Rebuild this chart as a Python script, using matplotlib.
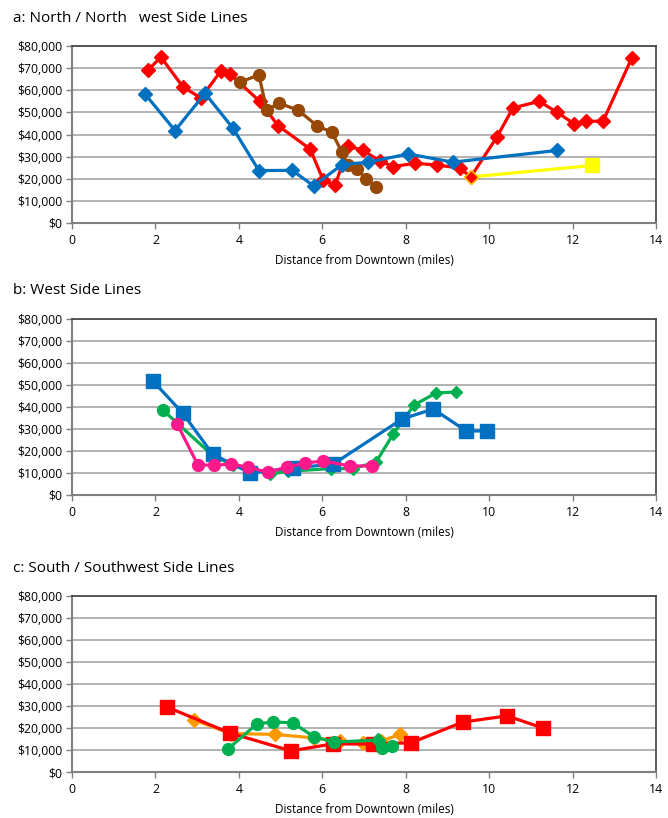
import matplotlib.pyplot as plt
import numpy as np

plt.rcParams["font.family"] = ["Open Sans", "DejaVu Sans"]

# ---- panel a: North / Northwest ----
a_red_x = [1.82, 2.13, 2.66, 3.09, 3.57, 3.79, 4.5, 4.94, 5.71, 6.02, 6.31, 6.62, 6.98,
           7.38, 7.7, 8.22, 8.75, 9.3, 9.56, 10.19, 10.57, 11.2, 11.63, 12.04, 12.32, 12.73, 13.42]
a_red_y = [69000, 75000, 61500, 56500, 68700, 67300, 55000, 44000, 33400, 19500, 17000, 34800, 32800,
           28000, 25500, 27000, 26200, 24800, 20800, 39000, 52000, 55000, 50000, 44800, 46000, 46000, 74600]
a_brown_x = [4.03, 4.48, 4.67, 4.96, 5.42, 5.87, 6.23, 6.47, 6.62, 6.83, 7.05, 7.29]
a_brown_y = [63700, 66900, 51000, 54200, 51000, 44000, 41000, 32000, 26200, 24400, 20000, 16300]
a_blue_x = [1.75, 2.47, 3.19, 3.86, 4.48, 5.28, 5.79, 6.48, 7.1, 8.06, 9.13, 11.63]
a_blue_y = [58300, 41800, 58600, 42800, 23700, 23800, 16800, 26400, 27500, 31200, 27500, 32800]
a_yellow_x = [9.56, 12.47]
a_yellow_y = [20800, 26000]

# ---- panel b: West ----
b_green_x = [2.18, 3.4, 3.85, 4.75, 5.18, 6.2, 6.74, 7.29, 7.7, 8.2, 8.73, 9.2]
b_green_y = [38600, 17500, 13800, 9500, 10800, 12000, 12000, 15000, 27700, 40900, 46400, 46800]
b_blue_x = [1.94, 2.65, 3.37, 4.27, 5.3, 6.26, 7.91, 8.66, 9.45, 9.95]
b_blue_y = [51800, 37300, 18600, 10000, 12300, 14000, 34500, 39100, 29100, 29100]
b_pink_x = [2.52, 3.02, 3.41, 3.81, 4.22, 4.7, 5.15, 5.59, 6.02, 6.66, 7.19]
b_pink_y = [32300, 13600, 13600, 14000, 12700, 10300, 12700, 14500, 15500, 13200, 13200]

# ---- panel c: South / Southwest ----
c_orange_x = [2.93, 3.8, 4.86, 5.8, 6.42, 6.98, 7.4, 7.87]
c_orange_y = [23600, 17500, 17100, 15500, 14200, 13100, 14000, 17100]
c_red_x = [2.28, 3.79, 5.25, 6.26, 7.22, 8.13, 9.37, 10.43, 11.29]
c_red_y = [29500, 17700, 9600, 12800, 12700, 13300, 22700, 25500, 20000]
c_green_x = [3.74, 4.43, 4.82, 5.3, 5.8, 6.28, 7.33, 7.43, 7.67]
c_green_y = [10500, 21800, 22800, 22300, 16000, 13600, 14500, 11000, 11800]

titles = ["a: North / North   west Side Lines", "b: West Side Lines",
          "c: South / Southwest Side Lines"]
xlabel = "Distance from Downtown (miles)"

W, H = 668, 818
fig = plt.figure(figsize=(W / 100, H / 100), dpi=100)

# plot areas in pixels: (top, bottom)
rows = [(46, 223), (319, 495), (596, 772)]
left_px, right_px = 72, 656
axes = []
for top, bot in rows:
    ax = fig.add_axes([left_px / W, 1 - bot / H, (right_px - left_px) / W, (bot - top) / H])
    axes.append(ax)

lw = 2.3


def style(ax, title, title_y):
    ax.set_xlim(0, 14)
    ax.set_ylim(0, 80000)
    ax.set_xticks(np.arange(0, 15, 2))
    ax.set_yticks(np.arange(0, 80001, 10000))
    ax.set_yticklabels(["${:,.0f}".format(v) for v in np.arange(0, 80001, 10000)])
    ax.tick_params(axis="both", labelsize=8.8, length=4, color="#808080", width=1, colors="black")
    ax.tick_params(axis="x", direction="out", pad=4)
    ax.tick_params(axis="y", direction="out", pad=3)
    ax.yaxis.grid(True, color="#a6a6a6", linewidth=1.2)
    ax.set_axisbelow(True)
    for s in ["left", "bottom"]:
        ax.spines[s].set_color("#808080")
        ax.spines[s].set_linewidth(1.5)
    for s in ["top", "right"]:
        ax.spines[s].set_color("#404040")
        ax.spines[s].set_linewidth(1.2)
    ax.set_xlabel(xlabel, fontsize=8.5, labelpad=5)
    fig.text(13 / W, 1 - title_y / H, title, fontsize=11, ha="left", va="center")


# panel a
ax = axes[0]
ax.plot(a_red_x, a_red_y, color="#ff0000", lw=lw, marker="D", ms=7.5, zorder=3)
ax.plot(a_brown_x, a_brown_y, color="#974806", lw=lw, marker="o", ms=8.5, zorder=4)
ax.plot(a_blue_x, a_blue_y, color="#0070c0", lw=lw, marker="D", ms=7.5, zorder=5)
ax.plot(a_yellow_x, a_yellow_y, color="#ffff00", lw=lw, zorder=6)
ax.plot(a_yellow_x[:1], a_yellow_y[:1], ls="none", marker="D", ms=7.5,
        mfc="#ff0000", mec="#ffd700", mew=1, zorder=7)
ax.plot(a_yellow_x[1:], a_yellow_y[1:], ls="none", marker="s", ms=9.5,
        color="#ffff00", zorder=7)
style(ax, titles[0], 19)

# panel b
ax = axes[1]
ax.plot(b_green_x, b_green_y, color="#00b050", lw=lw, marker="D", ms=6.5,
        markevery=list(range(1, len(b_green_x))), zorder=3)
ax.plot(b_green_x[:1], b_green_y[:1], ls="none", marker="o", ms=8.5, color="#00b050", zorder=3)
ax.plot(b_blue_x, b_blue_y, color="#0070c0", lw=lw, marker="s", ms=9.5, zorder=4)
ax.plot(b_pink_x, b_pink_y, color="#ff1a8c", lw=lw, marker="o", ms=8.5, zorder=5)
style(ax, titles[1], 291)

# panel c
ax = axes[2]
ax.plot(c_orange_x, c_orange_y, color="#ff9900", lw=lw, marker="D", ms=7, zorder=3)
ax.plot(c_red_x, c_red_y, color="#ff0000", lw=lw, marker="s", ms=9.5, zorder=4)
green_circ = [i for i in range(len(c_green_x)) if i != 6]
ax.plot(c_green_x, c_green_y, color="#00b050", lw=lw, marker="o", ms=8.5,
        markevery=green_circ, zorder=5)
ax.plot(c_green_x[6:7], c_green_y[6:7], ls="none", marker="D", ms=7.5, color="#00b050", zorder=5)
style(ax, titles[2], 568)

fig.savefig("out.png", dpi=100)
